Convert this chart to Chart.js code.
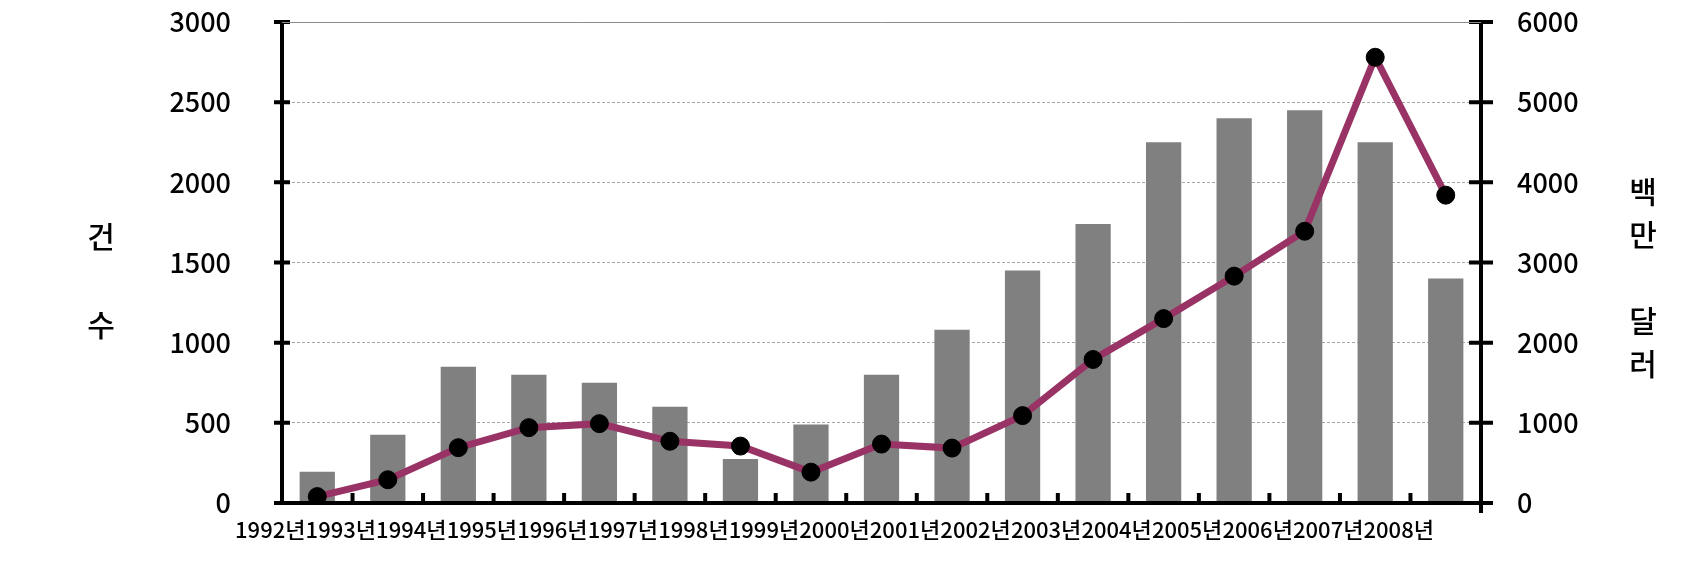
<!DOCTYPE html>
<html>
<head>
<meta charset="utf-8">
<script src="https://cdn.jsdelivr.net/npm/chart.js@4"></script>
<style>
  body { margin: 0; background: #fff; }
  #wrap { width: 1707px; height: 561px; }
</style>
</head>
<body>
<div id="wrap"><canvas id="chart" width="1707" height="561"></canvas></div>
<script>
// 연도별 건수(막대)와 금액(선, 백만달러)
const years = ['1992년', '1993년', '1994년', '1995년', '1996년', '1997년', '1998년', '1999년', '2000년',
    '2001년', '2002년', '2003년', '2004년', '2005년', '2006년', '2007년', '2008년'];
const counts = [195, 425, 850, 800, 750, 600, 275, 490, 800, 1080, 1450, 1740, 2250, 2400, 2450, 2250, 1400];
const amounts = [80, 290, 690, 940, 990, 770, 710, 385, 735, 685, 1090, 1790, 2300, 2830, 3390, 5560, 3840];

const leftTitle = ['건', '', '수'];
const rightTitle = ['백', '만', '', '달', '러'];

const FONT = "'Noto Sans CJK KR', 'Noto Sans', sans-serif";

// axis lines, crossing tick marks and the stacked titles
const axisDecor = {
    id: 'axisDecor',
    afterDraw(chart) {
        const ctx = chart.ctx;
        const area = chart.chartArea;
        const x = chart.scales.x, y = chart.scales.y, y1 = chart.scales.y1;
        ctx.save();
        ctx.strokeStyle = '#000';
        ctx.lineWidth = 4;
        ctx.lineCap = 'butt';
        ctx.beginPath();
        // left axis
        ctx.moveTo(area.left, area.top);
        ctx.lineTo(area.left, area.bottom + 2);
        // right axis (runs a bit below the x axis)
        ctx.moveTo(area.right, area.top);
        ctx.lineTo(area.right, area.bottom + 10);
        // x axis
        ctx.moveTo(area.left - 2, area.bottom);
        ctx.lineTo(area.right + 2, area.bottom);
        ctx.stroke();

        ctx.beginPath();
        y.ticks.forEach(t => {
            const py = y.getPixelForValue(t.value);
            ctx.moveTo(area.left - 8, py);
            ctx.lineTo(area.left + 8, py);
        });
        y1.ticks.forEach(t => {
            const py = y1.getPixelForValue(t.value);
            ctx.moveTo(area.right - 12, py);
            ctx.lineTo(area.right + 12, py);
        });
        for (let i = 1; i < years.length; i++) {
            const px = (x.getPixelForValue(i - 1) + x.getPixelForValue(i)) / 2;
            ctx.moveTo(px, area.bottom - 10);
            ctx.lineTo(px, area.bottom);
        }
        ctx.stroke();

        // top gridline is solid
        ctx.strokeStyle = '#8c8c8c';
        ctx.lineWidth = 1;
        ctx.beginPath();
        ctx.moveTo(area.left, area.top + 0.5);
        ctx.lineTo(area.right, area.top + 0.5);
        ctx.stroke();

        ctx.fillStyle = '#000';
        ctx.font = '500 30px ' + FONT;
        ctx.textAlign = 'center';
        ctx.textBaseline = 'middle';
        leftTitle.forEach((s, i) => ctx.fillText(s, 101, 237 + i * 44));
        rightTitle.forEach((s, i) => ctx.fillText(s, 1643, 192 + i * 43));
        ctx.restore();
    }
};

new Chart(document.getElementById('chart'), {
    type: 'bar',
    data: {
        labels: years,
        datasets: [{
            type: 'line',
            label: '금액',
            data: amounts,
            yAxisID: 'y1',
            borderColor: '#993366',
            borderWidth: 7,
            tension: 0,
            pointRadius: 9,
            pointBackgroundColor: '#000',
            pointBorderColor: '#000',
            pointBorderWidth: 1,
            order: 0,
        }, {
            label: '건수',
            data: counts,
            yAxisID: 'y',
            backgroundColor: '#808080',
            barPercentage: 0.5,
            categoryPercentage: 1,
            order: 1,
        }]
    },
    options: {
        responsive: false,
        animation: false,
        layout: { autoPadding: false, padding: { top: 22, left: 0, right: 0, bottom: 0 } },
        plugins: {
            legend: { display: false },
            tooltip: { enabled: false },
        },
        scales: {
            x: {
                offset: true,
                grid: { display: false },
                border: { display: false },
                ticks: {
                    autoSkip: false,
                    maxRotation: 0,
                    minRotation: 0,
                    labelOffset: -47,
                    padding: 5,
                    color: '#000',
                    font: { family: FONT, size: 22, weight: '500' },
                },
                afterFit(scale) { scale.height = 58; },
            },
            y: {
                position: 'left',
                min: 0,
                max: 3000,
                ticks: {
                    stepSize: 500,
                    padding: 0,
                    color: '#000',
                    font: { family: FONT, size: 27, weight: '500' },
                    callback: (v) => String(v),
                },
                grid: {
                    drawTicks: true,
                    tickLength: 51,
                    tickColor: 'rgba(0,0,0,0)',
                    color: (c) => (c.tick && c.tick.value > 0 && c.tick.value < 3000) ? '#a6a6a6' : 'rgba(0,0,0,0)',
                    lineWidth: 1,
                },
                border: { display: false, dash: [3, 2] },
                afterFit(scale) { scale.width = 282; },
            },
            y1: {
                position: 'right',
                min: 0,
                max: 6000,
                ticks: {
                    stepSize: 1000,
                    padding: 0,
                    color: '#000',
                    font: { family: FONT, size: 27, weight: '500' },
                    callback: (v) => String(v),
                },
                grid: {
                    drawOnChartArea: false,
                    drawTicks: true,
                    tickLength: 36,
                    tickColor: 'rgba(0,0,0,0)',
                },
                border: { display: false },
                afterFit(scale) { scale.width = 1707 - 1481; },
            },
        }
    },
    plugins: [axisDecor]
});
</script>
</body>
</html>
